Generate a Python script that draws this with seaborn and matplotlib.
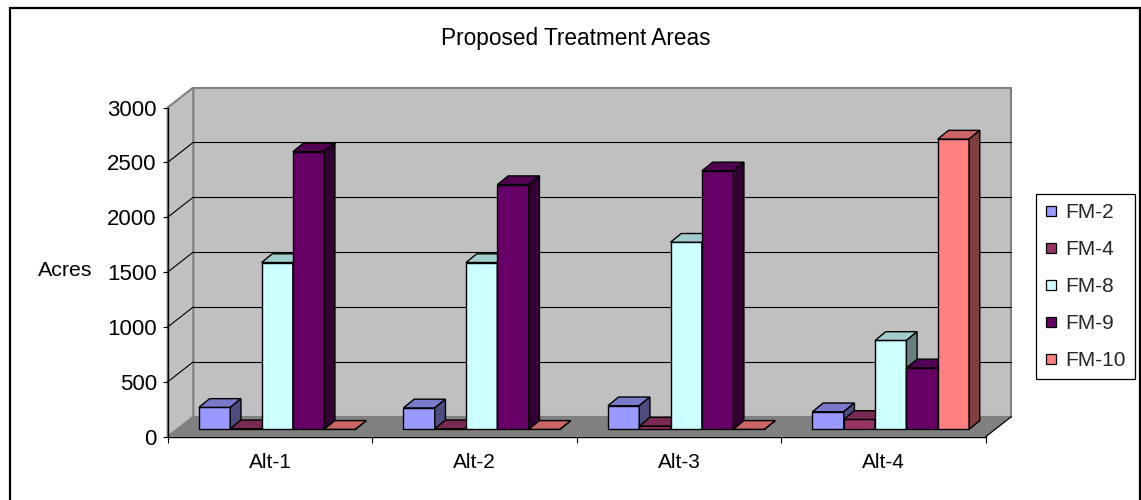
import numpy as np
import pandas as pd
import matplotlib
matplotlib.use("Agg")
import matplotlib.pyplot as plt
from matplotlib.patches import Polygon, Rectangle
from matplotlib.lines import Line2D
import seaborn as sns

# ---- data -------------------------------------------------------------
alternatives = ["Alt-1", "Alt-2", "Alt-3", "Alt-4"]
series_names = ["FM-2", "FM-4", "FM-8", "FM-9", "FM-10"]
fm2 = [200, 195, 215, 160]
fm4 = [5, 5, 30, 90]
fm8 = [1520, 1520, 1705, 810]
fm9 = [2530, 2230, 2355, 560]
fm10 = [0, 0, 0, 2645]
y_ticks = [0, 500, 1000, 1500, 2000, 2500, 3000]
series_colors = ["#9999FF", "#993366", "#CCFFFF", "#660066", "#FF8080"]

df = pd.DataFrame({
    "alt": np.repeat(alternatives, len(series_names)),
    "fm": series_names * len(alternatives),
    "acres": np.array([fm2, fm4, fm8, fm9, fm10]).T.ravel(),
})

# ---- style ------------------------------------------------------------
sns.set_style("white")
plt.rcParams["font.family"] = ["Liberation Sans", "DejaVu Sans"]
FS = 15

W, H = 1141, 500
fig = plt.figure(figsize=(W / 100, H / 100), dpi=100)
fig.patch.set_facecolor("white")


def fx(px):
    return px / W


def fy(py):
    return 1 - py / H


# front plane of the box (axis labels live here)
left, right, y0, y3000 = 167.7, 985.7, 436.7, 107.5
ax_w = (right - left) / W
ax_h = (y0 - y3000) / H
ax = fig.add_axes([fx(left), fy(y0), ax_w, ax_h])
ax.set_xlim(-0.5, 3.5)
ax.set_ylim(0, 3000)
ax.patch.set_visible(False)

px_per_cat = (right - left) / 4
px_per_acre = (y0 - y3000) / 3000

# full depth of the box, in data units of the front plane
ddx = 25.6 / px_per_cat
ddy = 20.0 / px_per_acre

wall_c = "#C0C0C0"
edge_c = "#808080"
back = Rectangle((-0.5 + ddx, ddy), 4, 3000, fc=wall_c, ec=edge_c, lw=1.5,
                 clip_on=False, zorder=0)
side = Polygon([(-0.5, 0), (-0.5 + ddx, ddy), (-0.5 + ddx, 3000 + ddy), (-0.5, 3000)],
               closed=True, fc=wall_c, ec=edge_c, lw=1.5, clip_on=False, zorder=0)
floor = Polygon([(-0.5, 0), (3.5, 0), (3.5 + ddx, ddy), (-0.5 + ddx, ddy)],
                closed=True, fc="#808080", ec="none", clip_on=False, zorder=1)
for art in (back, side, floor):
    ax.add_patch(art)

# gridlines across the back wall and the side wall
for v in y_ticks[1:-1]:
    ax.plot([-0.5 + ddx, 3.5 + ddx], [v + ddy, v + ddy], color="black", lw=0.8,
            clip_on=False, zorder=0.5)
    ax.plot([-0.5, -0.5 + ddx], [v, v + ddy], color="black", lw=0.8,
            clip_on=False, zorder=0.5)
ax.plot([3.5, 3.5 + ddx], [0, ddy], color="black", lw=0.9, clip_on=False, zorder=2)

for s in ("top", "right"):
    ax.spines[s].set_visible(False)
for s in ("left", "bottom"):
    ax.spines[s].set_color("black")
    ax.spines[s].set_linewidth(1.0)
    ax.spines[s].set_zorder(3)

ax.set_yticks(y_ticks)
ax.set_yticklabels([str(t) for t in y_ticks], fontsize=16)
ax.tick_params(axis="y", direction="out", length=3.6, width=0.8, pad=4.3,
               color="black", labelcolor="black", left=True)
ax.set_xticks(range(len(alternatives)))
ax.set_xticklabels(alternatives, fontsize=FS)
ax.set_xticks(np.arange(-0.5, 4.0, 1.0), minor=True)
ax.tick_params(axis="x", which="major", length=0, pad=11.5, labelcolor="black")
ax.tick_params(axis="x", which="minor", direction="out", length=4.5, width=0.8,
               color="black", bottom=True)
ax.set_xlabel("")
ax.set_ylabel("")

# plane of the bar fronts, sitting a little inside the box
off_x, off_y = 7.3, 7.4
axb = fig.add_axes([fx(left + off_x), fy(y0 - off_y), ax_w, ax_h])
sns.barplot(data=df, x="alt", y="acres", hue="fm", hue_order=series_names,
            palette=series_colors, saturation=1, width=0.766, errorbar=None,
            edgecolor="black", linewidth=1.0, legend=False, ax=axb)
axb.set_xlim(-0.5, 3.5)
axb.set_ylim(0, 3000)
axb.axis("off")
axb.patch.set_visible(False)

bdx = 10.7 / px_per_cat
bdy = 8.7 / px_per_acre


def shade(rgba, k):
    r, g, b, a = rgba
    return (r * k, g * k, b * k, 1)


bars = sorted([p for p in axb.patches if isinstance(p, Rectangle)], key=lambda p: p.get_x())
for i, p in enumerate(bars):
    x0, w, h = p.get_x(), p.get_width(), p.get_height()
    fc = p.get_facecolor()
    z = 2 + 3 * i
    p.set_zorder(z)
    top = Polygon([(x0, h), (x0 + w, h), (x0 + w + bdx, h + bdy), (x0 + bdx, h + bdy)],
                  closed=True, fc=shade(fc, 0.8), ec="black", lw=1.0, zorder=z + 1,
                  clip_on=False)
    sidef = Polygon([(x0 + w, 0), (x0 + w, h), (x0 + w + bdx, h + bdy), (x0 + w + bdx, bdy)],
                    closed=True, fc=shade(fc, 0.5), ec="black", lw=1.0, zorder=z + 1,
                    clip_on=False)
    axb.add_patch(top)
    axb.add_patch(sidef)
    p.set_clip_on(False)

# ---- texts ------------------------------------------------------------
fig.text(fx(575.5), fy(38), "Proposed Treatment Areas", ha="center", va="center",
         fontsize=16.3, color="black")
fig.text(fx(38), fy(270), "Acres", ha="left", va="center", fontsize=15.4, color="black")

handles = [Line2D([0], [0], marker="s", linestyle="none", markersize=6.5,
                  markerfacecolor=c, markeredgecolor="black", markeredgewidth=0.9)
           for c in series_colors]
leg = fig.legend(handles, series_names, loc="upper left",
                 bbox_to_anchor=(fx(1035.5), fy(194)), bbox_transform=fig.transFigure,
                 frameon=True, fancybox=False, edgecolor="black", framealpha=1,
                 borderaxespad=0, borderpad=0.45, handlelength=0.55,
                 handletextpad=0.42, labelspacing=0.86, fontsize=FS)
leg.get_frame().set_linewidth(0.9)

# chart border
fig.add_artist(Rectangle((fx(9.5), -0.02), fx(1140.3) - fx(9.5), fy(7.5) + 0.02,
                         transform=fig.transFigure, fill=False, ec="black", lw=1.6))

fig.savefig("out.png", dpi=100)
